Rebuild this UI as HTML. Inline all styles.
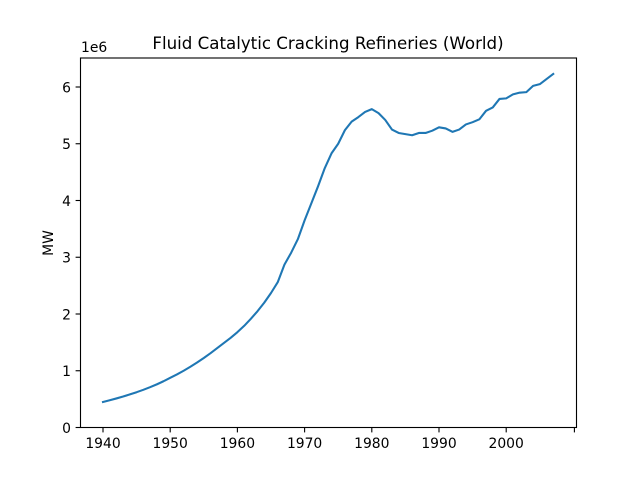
<!DOCTYPE html>
<html>
<head>
<meta charset="utf-8">
<style>
html,body{margin:0;padding:0;background:#fff;width:640px;height:480px;overflow:hidden}
svg{display:block}
text{font-family:"DejaVu Sans","Liberation Sans",sans-serif;fill:#000}
</style>
</head>
<body>
<svg id="chart" width="640" height="480" viewBox="0 0 640 480" xmlns="http://www.w3.org/2000/svg">
<rect width="640" height="480" fill="#fff"></rect>
<text x="328" y="49" font-size="16.67" text-anchor="middle">Fluid Catalytic Cracking Refineries (World)</text>
<text x="81" y="52" font-size="13.89">1e6</text>
<text transform="translate(53 243) rotate(-90)" font-size="13.89" text-anchor="middle">MW</text>
<g id="ticks"></g>
<polyline id="series" fill="none" stroke="#1f77b4" stroke-width="2.08" stroke-linejoin="round" stroke-linecap="square"></polyline>
<rect x="80.5" y="58" width="496" height="369.5" fill="none" stroke="#000" stroke-width="1.11"></rect>
</svg>
<script>
const startYear = 1940;
const capacity = [0.45,0.48,0.512,0.546,0.583,0.622,0.664,0.71,0.76,0.815,0.875,0.935,1.0,1.07,1.145,1.225,1.31,1.40,1.49,1.58,1.68,1.79,1.915,2.05,2.20,2.37,2.56,2.87,3.08,3.32,3.65,3.95,4.25,4.57,4.83,5.0,5.24,5.39,5.47,5.56,5.61,5.54,5.42,5.25,5.19,5.17,5.15,5.19,5.19,5.23,5.29,5.27,5.21,5.25,5.34,5.38,5.43,5.58,5.64,5.79,5.80,5.87,5.90,5.91,6.02,6.05,6.14,6.23];
const xTicks = [1940,1950,1960,1970,1980,1990,2000,2010.15];
const xTickLabels = ['1940','1950','1960','1970','1980','1990','2000',''];
const yTicks = [0,1,2,3,4,5,6];
const yTickLabels = ['0','1','2','3','4','5','6'];

function xScale(year){ return 103 + (year - 1940) * 6.72; }
function yScale(v){ return 427.5 - v * 56.75; }

const svgNS = 'http://www.w3.org/2000/svg';
const tickGroup = document.getElementById('ticks');

function makeLine(x1, y1, x2, y2){
  const l = document.createElementNS(svgNS, 'line');
  l.setAttribute('x1', x1);
  l.setAttribute('y1', y1);
  l.setAttribute('x2', x2);
  l.setAttribute('y2', y2);
  l.setAttribute('stroke', '#000');
  l.setAttribute('stroke-width', '1.11');
  return l;
}
function makeText(x, y, anchor, content){
  const t = document.createElementNS(svgNS, 'text');
  t.setAttribute('x', x);
  t.setAttribute('y', y);
  t.setAttribute('font-size', '13.89');
  t.setAttribute('text-anchor', anchor);
  t.textContent = content;
  return t;
}

xTicks.forEach(function(year, i){
  const x = xScale(year);
  const mark = makeLine(x, 427.5, x, 432.4);
  
  
  tickGroup.appendChild(mark);
  if (xTickLabels[i]) {
    const label = makeText(x, 448, 'middle', xTickLabels[i]);
    
    
    tickGroup.appendChild(label);
  }
});

yTicks.forEach(function(v, i){
  const y = yScale(v);
  const mark = makeLine(75.6, y, 80.5, y);
  
  
  tickGroup.appendChild(mark);
  const label = makeText(71, y + 5.3, 'end', yTickLabels[i]);
  
  
  tickGroup.appendChild(label);
});

document.getElementById('series').setAttribute('points', capacity.map(function(v, i){
  return xScale(startYear + i).toFixed(2) + ',' + yScale(v).toFixed(2);
}).join(' '));
</script>
</body>
</html>
